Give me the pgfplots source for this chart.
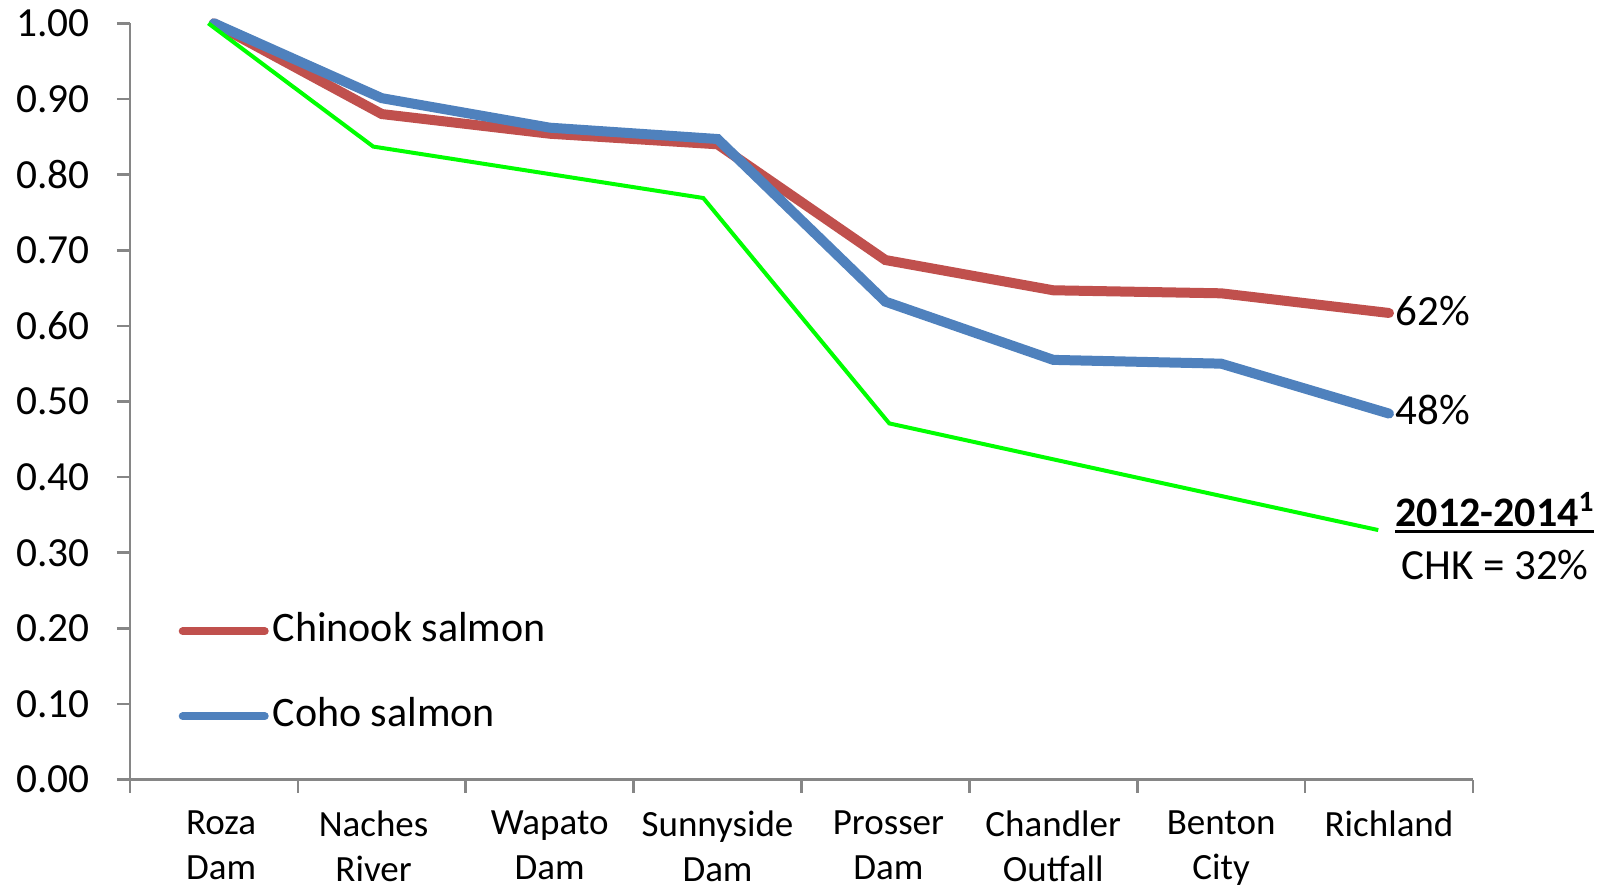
\documentclass[border=0pt]{standalone}
\usepackage{fontspec}
\setmainfont{Carlito}
\usepackage{pgfplots}
\pgfplotsset{compat=1.18}
\definecolor{chk}{HTML}{C0504D}
\definecolor{coho}{HTML}{4F81BD}
\definecolor{grn}{HTML}{00FF00}
\definecolor{axgray}{HTML}{868686}
\newcommand\myul[1]{\setbox0\hbox{#1}\leavevmode\rlap{\rule[-3pt]{\wd0}{1.5pt}}\box0}
\begin{document}
\begin{tikzpicture}
\begin{axis}[
  width=671.5pt, height=378.2pt, scale only axis,
  xmin=-0.5, xmax=7.5, ymin=0, ymax=1,
  clip=false,
  axis x line*=bottom, axis y line*=left,
  axis line style={axgray, line width=1.3pt, -},
  tick align=outside,
  xtick={0.043,0.951,2,3,4.018,5,6,7},
  xticklabels={{Roza\\Dam},{Naches\\River},{Wapato\\Dam},{Sunnyside\\Dam},{Prosser\\Dam},{Chandler\\Outfall},{Benton\\City},{Richland}},
  minor xtick={-0.5,0.5,1.5,2.5,3.5,4.5,5.5,6.5,7.5},
  major x tick style={draw=none},
  minor x tick style={axgray, line width=1.3pt},
  minor tick length=6.5pt,
  major tick length=6.5pt,
  ytick={0,0.1,0.2,0.3,0.4,0.5,0.6,0.7,0.8,0.9,1.0},
  y tick style={axgray, line width=1.3pt},
  yticklabel style={/pgf/number format/fixed, /pgf/number format/fixed zerofill, /pgf/number format/precision=2, /pgf/number format/assume math mode=true},
  yticklabel style={anchor=east, inner sep=0pt, xshift=-13.5pt, font=\fontsize{20.7}{24}\selectfont},
  xticklabel style={align=center, anchor=north, inner sep=0pt, yshift=-9pt, font=\fontsize{18.5}{22.5}\selectfont},
  legend style={draw=none, fill=none, at={(0.036,0.140)}, anchor=west, inner sep=0pt,
    row sep=22.5pt, font=\fontsize{21}{25}\selectfont,
    nodes={inner sep=0pt, text height=15pt, text depth=5pt},
    /tikz/every odd column/.append style={column sep=2pt}},
  legend cell align=left,
  legend image code/.code={\draw[#1, line width=4pt, line cap=round] (2pt,0pt) -- (43pt,0pt);},
]
\addplot[chk, line width=5pt, line cap=round, line join=miter] coordinates {
  (0,1.00) (1,0.880) (2,0.854) (3,0.840) (4,0.687) (5,0.647) (6,0.643) (7,0.617)};
\addlegendentry{Chinook salmon}
\addplot[coho, line width=5pt, line cap=round, line join=miter] coordinates {
  (0,1.00) (1,0.901) (2,0.862) (3,0.847) (4,0.632) (5,0.555) (6,0.550) (7,0.484)};
\addlegendentry{Coho salmon}
\addplot[grn, line width=2pt, forget plot] coordinates {
  (-0.034,1.00) (0.949,0.837) (1.99,0.801) (2.915,0.769) (4.023,0.471) (4.99,0.424) (5.96,0.377) (6.936,0.330)};
\node[anchor=base west, inner sep=0pt, xshift=3pt, font=\fontsize{21.5}{24}\selectfont] at (axis cs:7,0.601) {62\%};
\node[anchor=base west, inner sep=0pt, xshift=3pt, font=\fontsize{21.5}{24}\selectfont] at (axis cs:7,0.470) {48\%};
\node[anchor=base, inner sep=0pt, font=\fontsize{21}{24}\selectfont\bfseries] at (axis cs:7.631,0.3345) {\myul{2012-2014\textsuperscript{1}}};
\node[anchor=base, inner sep=0pt, font=\fontsize{21.5}{24}\selectfont] at (axis cs:7.631,0.264) {CHK = 32\%};
\coordinate (bbll) at (rel axis cs:-0.0968,-0.1432);
\coordinate (bbur) at (rel axis cs:1.1043,1.0308);
\end{axis}
\pgfresetboundingbox
\path[use as bounding box] (bbll) rectangle (bbur);
\end{tikzpicture}
\end{document}
